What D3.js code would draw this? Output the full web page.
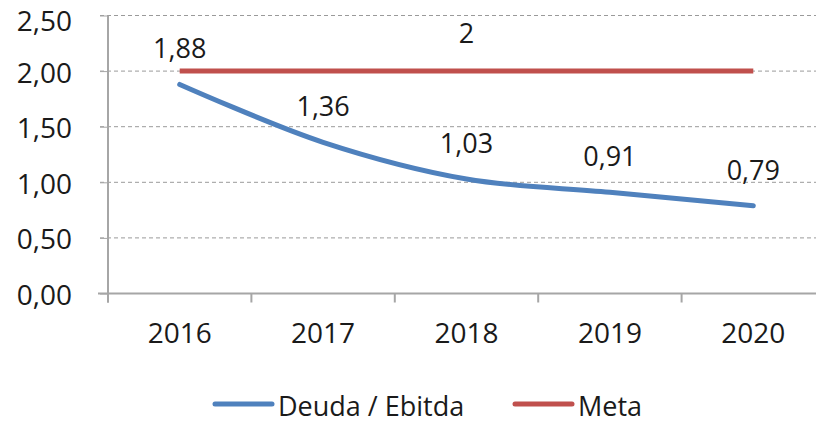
<!DOCTYPE html>
<html>
<head>
<meta charset="utf-8">
<script src="https://cdn.jsdelivr.net/npm/d3@7"></script>
<style>
  body { margin: 0; background: #fff; }
  svg { display: block; }
</style>
</head>
<body>
<div id="chart"></div>
<script>
// datos
const years = ['2016', '2017', '2018', '2019', '2020'];
const deudaEbitda = [1.88, 1.36, 1.03, 0.91, 0.79];
const meta = [2, 2, 2, 2, 2];
const yTicks = [0, 0.5, 1, 1.5, 2, 2.5];

const w = 816;
const h = 423;
const plot = { left: 108, right: 825, top: 15.5, bottom: 293.5 };
const fontFamily = '"Open Sans", sans-serif';
const blue = '#4f81bd';
const red = '#c0504d';

const fmt = v => d3.format('.2f')(v).replace('.', ',');

const svg = d3.select('#chart')
  .append('svg')
  .attr('width', w)
  .attr('height', h);

const x = d3.scaleBand()
  .domain(years)
  .range([plot.left, plot.right]);

const y = d3.scaleLinear()
  .domain([0, 2.5])
  .range([plot.bottom, plot.top]);

const cx = d => x(d) + x.bandwidth() / 2;

// lineas de grilla
svg.append('g')
  .selectAll('line')
  .data(yTicks.filter(d => d > 0))
  .enter()
  .append('line')
  .attr('x1', plot.left - 8)
  .attr('x2', w)
  .attr('y1', d => y(d))
  .attr('y2', d => y(d))
  .attr('stroke', '#9a9a9a')
  .attr('stroke-width', 1)
  .attr('stroke-dasharray', '4,3');

// eje y
const yAxis = svg.append('g')
  .attr('transform', `translate(${plot.left},0)`)
  .call(d3.axisLeft(y).tickValues(yTicks).tickFormat(fmt).tickSize(8).tickPadding(28));
yAxis.select('.domain').remove();
yAxis.selectAll('.tick line').attr('stroke', '#a6a6a6');
yAxis.selectAll('.tick text')
  .style('font-family', fontFamily)
  .style('font-size', '28px')
  .attr('fill', '#1a1a1a')
  .attr('y', d => d === 2.5 ? 6 : 2);
svg.append('line')
  .attr('x1', plot.left).attr('x2', plot.left)
  .attr('y1', plot.top).attr('y2', plot.bottom + 9)
  .attr('stroke', '#a6a6a6').attr('stroke-width', 2);

// eje x
const xAxis = svg.append('g')
  .attr('transform', `translate(0,${plot.bottom})`)
  .call(d3.axisBottom(x).tickSize(0).tickPadding(30));
xAxis.select('.domain').remove();
xAxis.selectAll('.tick text')
  .style('font-family', fontFamily)
  .style('font-size', '28px')
  .attr('fill', '#1a1a1a');
svg.append('line')
  .attr('x1', plot.left - 10).attr('x2', w)
  .attr('y1', plot.bottom).attr('y2', plot.bottom)
  .attr('stroke', '#a6a6a6').attr('stroke-width', 2);
svg.append('g')
  .selectAll('line')
  .data(years)
  .enter()
  .append('line')
  .attr('x1', d => x(d))
  .attr('x2', d => x(d))
  .attr('y1', plot.bottom)
  .attr('y2', plot.bottom + 9)
  .attr('stroke', '#a6a6a6')
  .attr('stroke-width', 2);

// series
const line = d3.line()
  .x((d, i) => cx(years[i]))
  .y(d => y(d));

svg.append('path')
  .datum(meta)
  .attr('fill', 'none')
  .attr('stroke', red)
  .attr('stroke-width', 5)
  .attr('d', line);

svg.append('path')
  .datum(deudaEbitda)
  .attr('fill', 'none')
  .attr('stroke', blue)
  .attr('stroke-width', 5)
  .attr('stroke-linecap', 'round')
  .attr('d', line.curve(d3.curveCatmullRom.alpha(0.5)));

// etiquetas
svg.append('g')
  .selectAll('text')
  .data(deudaEbitda)
  .enter()
  .append('text')
  .attr('x', (d, i) => cx(years[i]))
  .attr('y', d => y(d) - 26)
  .attr('text-anchor', 'middle')
  .style('font-family', fontFamily)
  .style('font-size', '27px')
  .attr('fill', '#1a1a1a')
  .text(fmt);

svg.append('text')
  .attr('x', cx(years[2]))
  .attr('y', y(meta[2]) - 28)
  .attr('text-anchor', 'middle')
  .style('font-family', fontFamily)
  .style('font-size', '27px')
  .attr('fill', '#1a1a1a')
  .text(meta[2]);

// leyenda
const legend = [
  { name: 'Deuda / Ebitda', color: blue, x: 215 },
  { name: 'Meta', color: red, x: 515 }
];
const lg = svg.append('g')
  .selectAll('g')
  .data(legend)
  .enter()
  .append('g')
  .attr('transform', d => `translate(${d.x},404)`);
lg.append('line')
  .attr('x1', 0).attr('x2', 57)
  .attr('stroke', d => d.color)
  .attr('stroke-width', 5)
  .attr('stroke-linecap', 'round');
lg.append('text')
  .attr('x', 63)
  .attr('y', 3)
  .attr('dy', '0.35em')
  .style('font-family', fontFamily)
  .style('font-size', '27px')
  .attr('fill', '#1a1a1a')
  .text(d => d.name);
</script>
</body>
</html>
